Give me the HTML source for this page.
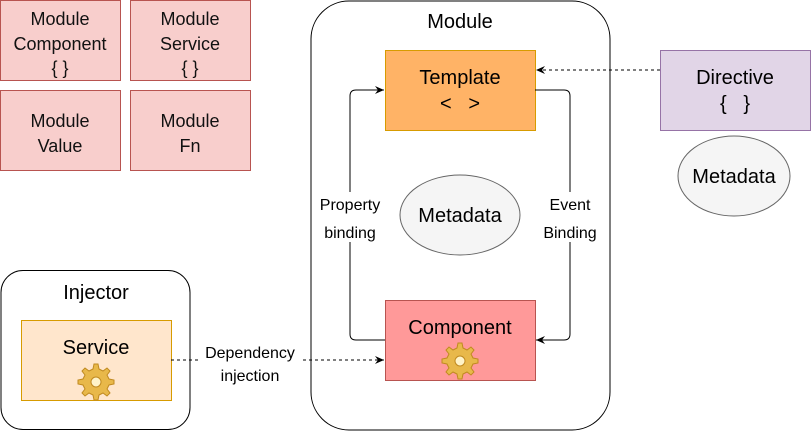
<!DOCTYPE html>
<html><head><style>
body{margin:0;background:#fff;width:811px;height:431px;overflow:hidden;font-family:"Liberation Sans",sans-serif}
</style></head><body>
<svg width="811" height="431" viewBox="0 0 811 431" xmlns="http://www.w3.org/2000/svg" font-family="Liberation Sans, sans-serif">
<defs>
<marker id="a" markerWidth="10" markerHeight="10" refX="9" refY="5" orient="auto" markerUnits="userSpaceOnUse"><path d="M0,1 L9,5 L0,9 L3,5 Z" fill="#000"/></marker>
<g id="gear">
<path d="M0,-16 l4,0 1,5 4,2 4,-3 3,3 -3,4 2,4 5,1 0,4 -5,1 -2,4 3,4 -3,3 -4,-3 -4,2 -1,5 -4,0 -1,-5 -4,-2 -4,3 -3,-3 3,-4 -2,-4 -5,-1 0,-4 5,-1 2,-4 -3,-4 3,-3 4,3 4,-2 z" transform="translate(-2,0)" fill="#e8b84a" stroke="#c08a20" stroke-width="1"/>
<circle cx="0" cy="2" r="5" fill="#fff3c8" stroke="#c08a20"/>
</g>
</defs>
<g stroke="#b85450" fill="#f8cecc">
<rect x="0.5" y="0.5" width="120" height="80"/>
<rect x="130.5" y="0.5" width="120" height="80"/>
<rect x="0.5" y="90.5" width="120" height="80"/>
<rect x="130.5" y="90.5" width="120" height="80"/>
</g>
<g font-size="18" text-anchor="middle" fill="#111">
<text x="60" y="25">Module</text><text x="60" y="50">Component</text><text x="60" y="74">{ }</text>
<text x="190" y="25">Module</text><text x="190" y="50">Service</text><text x="190" y="74">{ }</text>
<text x="60" y="127">Module</text><text x="60" y="152">Value</text>
<text x="190" y="127">Module</text><text x="190" y="152">Fn</text>
</g>
<rect x="311" y="1" width="299" height="429" rx="38" fill="#fff" stroke="#000"/>
<text x="460" y="28" font-size="20" text-anchor="middle">Module</text>
<rect x="1" y="270.5" width="189" height="159" rx="22" fill="#fff" stroke="#000"/>
<text x="96" y="299" font-size="20" text-anchor="middle">Injector</text>
<rect x="21.5" y="320.5" width="150" height="80" fill="#ffe6cc" stroke="#d79b00"/>
<text x="96" y="354" font-size="20" text-anchor="middle">Service</text>
<use href="#gear" x="96" y="380"/>
<rect x="385.5" y="50.5" width="150" height="80" fill="#ffb366" stroke="#d79b00"/>
<text x="460" y="84" font-size="20" text-anchor="middle">Template</text>
<text x="460" y="110" font-size="20" text-anchor="middle">&lt;&#160;&#160;&#160;&gt;</text>
<rect x="385.5" y="300.5" width="150" height="80" fill="#ff9999" stroke="#b85450"/>
<text x="460" y="334" font-size="20" text-anchor="middle">Component</text>
<use href="#gear" x="460" y="359"/>
<rect x="660.5" y="50.5" width="150" height="80" fill="#e1d5e7" stroke="#9673a6"/>
<text x="735" y="84" font-size="20" text-anchor="middle">Directive</text>
<text x="735" y="110" font-size="20" text-anchor="middle">{&#160;&#160;&#160;}</text>
<ellipse cx="460" cy="215" rx="60" ry="40" fill="#f5f5f5" stroke="#666"/>
<text x="460" y="222" font-size="20" text-anchor="middle">Metadata</text>
<ellipse cx="734" cy="176" rx="56" ry="40" fill="#f5f5f5" stroke="#666"/>
<text x="734" y="183" font-size="20" text-anchor="middle">Metadata</text>
<g fill="none" stroke="#000">
<path d="M385,340 H356 Q350,340 350,334 V96 Q350,90 356,90 H384" marker-end="url(#a)"/>
<path d="M535,90 H564 Q570,90 570,96 V334 Q570,340 564,340 H536" marker-end="url(#a)"/>
<path d="M660,70 H536" stroke-dasharray="3,3" marker-end="url(#a)"/>
<path d="M171,360 H384" stroke-dasharray="3,3" marker-end="url(#a)"/>
</g>
<rect x="316" y="192" width="70" height="50" fill="#fff"/>
<text x="350" y="210" font-size="16" text-anchor="middle">Property</text>
<text x="350" y="238" font-size="16" text-anchor="middle">binding</text>
<rect x="540" y="192" width="62" height="50" fill="#fff"/>
<text x="570" y="210" font-size="16" text-anchor="middle">Event</text>
<text x="570" y="238" font-size="16" text-anchor="middle">Binding</text>
<rect x="200" y="343" width="100" height="42" fill="#fff"/>
<text x="250" y="358" font-size="16" text-anchor="middle">Dependency</text>
<text x="250" y="381" font-size="16" text-anchor="middle">injection</text>
</svg>
</body></html>
